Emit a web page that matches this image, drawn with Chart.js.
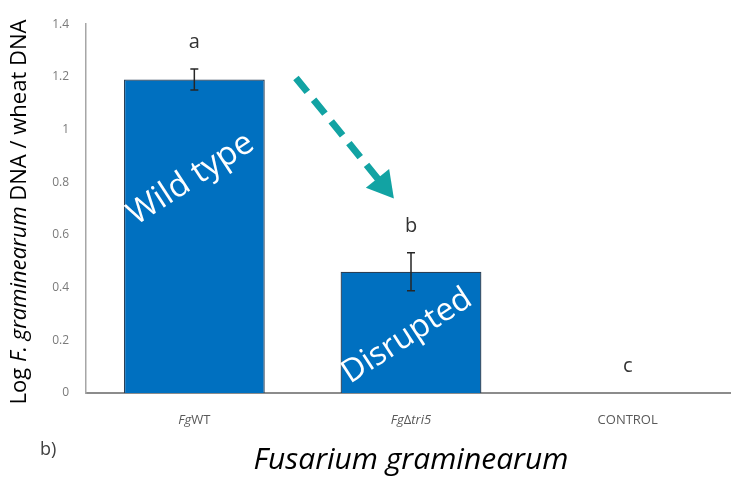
<!DOCTYPE html>
<html>
<head>
<meta charset="utf-8">
<script src="https://cdn.jsdelivr.net/npm/chart.js@4/dist/chart.umd.min.js"></script>
<style>
  html, body { margin: 0; padding: 0; background: #fff; overflow: hidden; }
  #wrap { width: 740px; height: 477px; }
</style>
</head>
<body>
<div id="wrap"><canvas id="myChart" width="740" height="477"></canvas></div>
<script>
// data
var categories = ['FgWT', 'FgΔtri5', 'CONTROL'];
var values = [1.19, 0.46, 0];
var errors = [0.04, 0.072, 0];
var letters = ['a', 'b', 'c'];
// label pieces, [text, italic]
var catParts = [
    [['Fg', true], ['WT', false]],
    [['Fg', true], ['Δ', false], ['tri5', true]],
    [['CONTROL', false]]
];
var yTitleParts = [['Log ', false], ['F. graminearum', true], [' DNA / wheat DNA', false]];
var xTitle = 'Fusarium graminearum';
// labels inside bars: [text, category index offset, value]
var barNotes = [['Wild type', -0.016, 0.813], ['Disrupted', -0.018, 0.216]];
// arrow from / to in (category index, value)
var arrowFrom = [0.469, 1.196];
var arrowTo = [0.921, 0.738];

var FONT = "'Open Sans', 'Liberation Sans', sans-serif";

function drawParts(c, parts, size, x, y) {
    var total = 0;
    parts.forEach(function (p) {
        c.font = (p[1] ? 'italic ' : '') + size + 'px ' + FONT;
        total += c.measureText(p[0]).width;
    });
    var cx = x - total / 2;
    parts.forEach(function (p) {
        c.font = (p[1] ? 'italic ' : '') + size + 'px ' + FONT;
        c.fillText(p[0], cx, y);
        cx += c.measureText(p[0]).width;
    });
}

var extras = {
    id: 'extras',
    afterDatasetsDraw: function (chart) {
        var c = chart.ctx;
        var xs = chart.scales.x, ys = chart.scales.y;
        var step = xs.getPixelForValue(1) - xs.getPixelForValue(0);
        c.save();

        // error bars
        c.strokeStyle = '#262626';
        c.lineWidth = 1.5;
        values.forEach(function (v, i) {
            if (!errors[i]) return;
            var x = xs.getPixelForValue(i);
            var top = ys.getPixelForValue(v + errors[i]);
            var bot = ys.getPixelForValue(v - errors[i]);
            c.beginPath();
            c.moveTo(x, top); c.lineTo(x, bot);
            c.moveTo(x - 4, top); c.lineTo(x + 4, top);
            c.moveTo(x - 4, bot); c.lineTo(x + 4, bot);
            c.stroke();
        });

        // significance letters
        c.fillStyle = '#333333';
        c.font = '20px ' + FONT;
        c.textAlign = 'center';
        c.textBaseline = 'middle';
        values.forEach(function (v, i) {
            var x = xs.getPixelForValue(i);
            c.fillText(letters[i], x, ys.getPixelForValue(v + errors[i]) - 27);
        });

        // category labels
        c.fillStyle = '#595959';
        c.textAlign = 'left';
        catParts.forEach(function (parts, i) {
            drawParts(c, parts, 13, xs.getPixelForValue(i), 420);
        });

        // white notes on bars
        c.fillStyle = '#ffffff';
        c.textAlign = 'center';
        barNotes.forEach(function (n, i) {
            var x = xs.getPixelForValue(0) + (n[1] + i) * step;
            var y = ys.getPixelForValue(n[2]);
            c.font = (i === 0 ? 33 : 32) + 'px ' + FONT;
            c.save();
            c.translate(x, y);
            c.rotate(-33 * Math.PI / 180);
            c.fillText(n[0], 0, 0);
            c.restore();
        });

        // dashed arrow
        var x1 = xs.getPixelForValue(0) + arrowFrom[0] * step, y1 = ys.getPixelForValue(arrowFrom[1]);
        var x2 = xs.getPixelForValue(0) + arrowTo[0] * step, y2 = ys.getPixelForValue(arrowTo[1]);
        var ang = Math.atan2(y2 - y1, x2 - x1);
        var headLen = 26, headW = 15;
        var bx = x2 - headLen * Math.cos(ang), by = y2 - headLen * Math.sin(ang);
        c.strokeStyle = '#12a3a3';
        c.fillStyle = '#12a3a3';
        c.lineWidth = 7;
        c.setLineDash([18, 10]);
        c.beginPath();
        c.moveTo(x1, y1); c.lineTo(bx + 4 * Math.cos(ang), by + 4 * Math.sin(ang));
        c.stroke();
        c.setLineDash([]);
        c.beginPath();
        c.moveTo(x2, y2);
        c.lineTo(bx + headW * Math.sin(ang), by - headW * Math.cos(ang));
        c.lineTo(bx - headW * Math.sin(ang), by + headW * Math.cos(ang));
        c.closePath();
        c.fill();

        // axis titles
        c.fillStyle = '#000000';
        c.textAlign = 'left';
        c.textBaseline = 'middle';
        drawParts(c, [[xTitle, true]], 30, xs.getPixelForValue(1), 460);
        c.save();
        c.translate(20, 212);
        c.rotate(-Math.PI / 2);
        drawParts(c, yTitleParts, 22, 0, 0);
        c.restore();

        // panel mark
        c.fillStyle = '#404040';
        c.font = '18px ' + FONT;
        c.fillText('b)', 40, 450);
        c.restore();
    }
};

var ctx = document.getElementById('myChart').getContext('2d');
var myChart = new Chart(ctx, {
    type: 'bar',
    data: {
        labels: categories,
        datasets: [{
            data: values,
            backgroundColor: '#0070c0',
            borderColor: '#2a3f55',
            borderWidth: 1.3,
            barPercentage: 0.65,
            categoryPercentage: 1
        }]
    },
    options: {
        responsive: false,
        animation: false,
        layout: { padding: { left: 0, right: 4, top: 23, bottom: 0 } },
        plugins: {
            legend: { display: false },
            tooltip: { enabled: false }
        },
        scales: {
            x: {
                grid: { display: false },
                border: { color: '#8c8c8c', width: 2 },
                ticks: { display: false },
                afterFit: function (s) { s.height = 84; }
            },
            y: {
                min: 0,
                max: 1.4,
                grid: { display: false, drawTicks: false },
                border: { color: '#a6a6a6', width: 1.5 },
                ticks: {
                    stepSize: 0.2,
                    padding: 17,
                    color: '#7a7a7a',
                    font: { family: FONT, size: 12 },
                    callback: function (v) { return String(Number(v.toFixed(1))); }
                },
                afterFit: function (s) { s.width = 86; }
            }
        }
    },
    plugins: [extras]
});
</script>
</body>
</html>
